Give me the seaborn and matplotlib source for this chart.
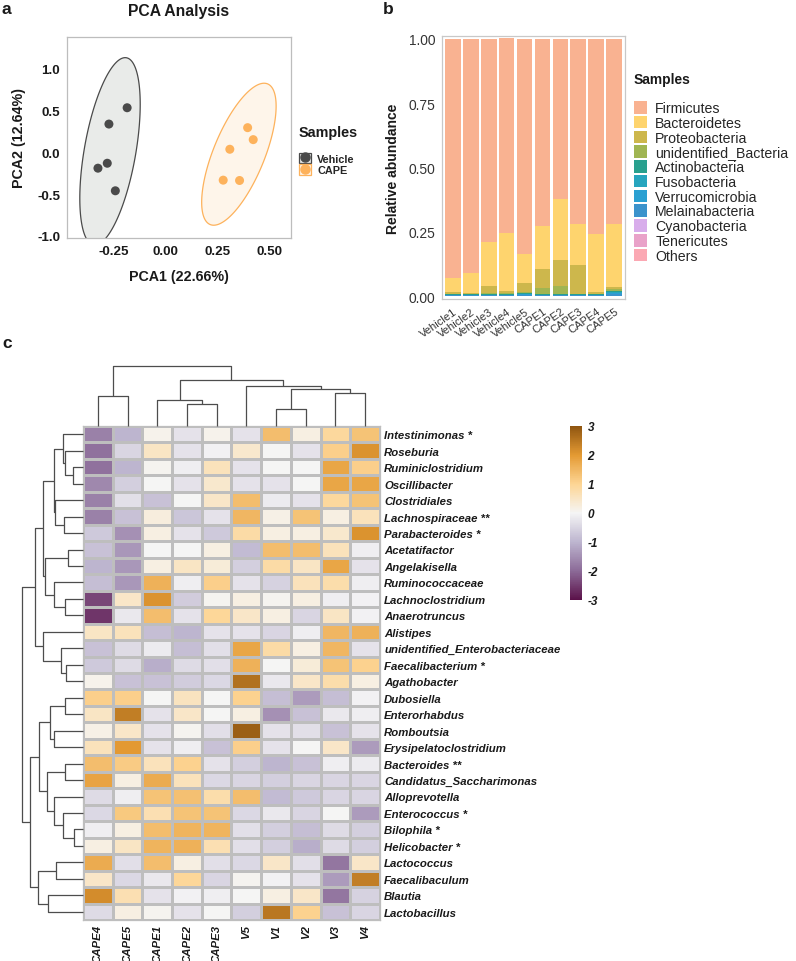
import numpy as np
import pandas as pd
import matplotlib
matplotlib.use("Agg")
import matplotlib.pyplot as plt
import seaborn as sns
from matplotlib.colors import LinearSegmentedColormap
from matplotlib.patches import Polygon, Patch
from matplotlib.lines import Line2D
from matplotlib.legend_handler import HandlerTuple

sns.set_theme(style="white")
plt.rcParams['font.family'] = ['Liberation Sans', 'DejaVu Sans']

# ---------------- data: panel a (PCA) ----------------
pca_group = ["Vehicle"] * 5 + ["CAPE"] * 5
pca1 = [-0.187, -0.275, -0.328, -0.283, -0.244, 0.395, 0.422, 0.309, 0.277, 0.356]
pca2 = [0.532, 0.337, -0.190, -0.131, -0.460, 0.294, 0.151, 0.036, -0.333, -0.337]
pca_groups = ["Vehicle", "CAPE"]
pca_colors = ["#4A4A4A", "#FDB25C"]
pca_fills = ["#E9EBE9", "#FEF5EA"]
ellipse_level = 0.93

# ---------------- data: panel b (stacked bars) ----------------
samples = ["Vehicle1", "Vehicle2", "Vehicle3", "Vehicle4", "Vehicle5",
           "CAPE1", "CAPE2", "CAPE3", "CAPE4", "CAPE5"]
phyla = ["Firmicutes", "Bacteroidetes", "Proteobacteria", "unidentified_Bacteria",
         "Actinobacteria", "Fusobacteria", "Verrucomicrobia", "Melainabacteria",
         "Cyanobacteria", "Tenericutes", "Others"]
phyla_colors = ["#F9B291", "#FED46E", "#CDB74C", "#A0B552", "#28A08E", "#27A5BE",
                "#2AA0D2", "#3B93CC", "#D8ADEB", "#E9A2C9", "#FBA8B3"]
firmicutes = [0.9285, 0.9095, 0.7875, 0.7555, 0.834, 0.7275, 0.6205, 0.7195, 0.7575, 0.720]
bacteroidetes = [0.055, 0.077, 0.171, 0.226, 0.115, 0.166, 0.238, 0.160, 0.225, 0.242]
proteobacteria = [0.006, 0.004, 0.030, 0.007, 0.034, 0.074, 0.103, 0.110, 0.008, 0.010]
unidentified_bacteria = [0.003, 0.002, 0.004, 0.003, 0.004, 0.024, 0.030, 0.003, 0.002, 0.008]
actinobacteria = [0.002, 0.002, 0.002, 0.003, 0.003, 0.003, 0.003, 0.002, 0.002, 0.004]
fusobacteria = [0.0005, 0.0005, 0.0005, 0.0005, 0.002, 0.0005, 0.0005, 0.0005, 0.0005, 0.001]
verrucomicrobia = [0.001, 0.001, 0.001, 0.002, 0.003, 0.001, 0.001, 0.001, 0.001, 0.006]
melainabacteria = [0.001, 0.001, 0.001, 0.001, 0.002, 0.001, 0.001, 0.001, 0.001, 0.006]
cyanobacteria = [0.0005] * 10
tenericutes = [0.0005] * 10
others = [0.002] * 10

# ---------------- data: panel c (heatmap) ----------------
hm_cols = ["CAPE4", "CAPE5", "CAPE1", "CAPE2", "CAPE3", "V5", "V1", "V2", "V3", "V4"]
hm_rows = ["Intestinimonas *", "Roseburia", "Ruminiclostridium", "Oscillibacter",
           "Clostridiales", "Lachnospiraceae **", "Parabacteroides *", "Acetatifactor",
           "Angelakisella", "Ruminococcaceae", "Lachnoclostridium", "Anaerotruncus",
           "Alistipes", "unidentified_Enterobacteriaceae", "Faecalibacterium *",
           "Agathobacter", "Dubosiella", "Enterorhabdus", "Romboutsia",
           "Erysipelatoclostridium", "Bacteroides **", "Candidatus_Saccharimonas",
           "Alloprevotella", "Enterococcus *", "Bilophila *", "Helicobacter *",
           "Lactococcus", "Faecalibaculum", "Blautia", "Lactobacillus"]
hm_values = [
    [-1.7, -1.0, 0.1, -0.3, 0.1, -0.3, 1.4, 0.2, 0.9, 1.3],
    [-1.9, -0.5, 0.5, -0.3, -0.05, 0.4, 0.0, -0.3, 1.1, 2.1],
    [-1.9, -1.0, 0.05, -0.1, 0.6, -0.3, 0.0, 0.0, 1.8, 1.1],
    [-1.6, -0.6, 0.0, -0.3, 0.4, -0.3, -0.3, 0.0, 1.8, 1.8],
    [-1.7, -0.35, -0.8, 0.0, 0.45, 1.4, -0.15, -0.3, 0.9, 1.3],
    [-1.7, -0.8, 0.25, -0.75, -0.3, 1.5, 0.15, 1.3, 0.2, 0.6],
    [-0.7, -1.5, 0.2, -0.3, -0.7, 0.8, 0.2, 0.2, 0.4, 2.1],
    [-0.8, -1.4, 0.0, 0.0, 0.2, -0.9, 1.4, 1.4, 0.6, -0.1],
    [-1.0, -1.4, 0.2, 0.5, 0.3, -0.6, 0.8, 0.5, 1.8, -0.3],
    [-0.85, -1.4, 1.6, -0.1, 1.1, -0.3, -0.55, 0.6, 0.75, -0.1],
    [-2.4, 0.45, 2.1, -0.65, 0.05, 0.2, 0.05, 0.2, -0.1, -0.05],
    [-2.6, -0.2, 1.4, -0.3, 0.95, 0.45, 0.2, -0.5, 0.5, -0.05],
    [0.5, 0.6, -0.85, -1.0, -0.3, -0.3, -0.5, -0.1, 1.5, 1.6],
    [-0.8, -0.4, -0.15, -0.85, -0.35, 1.8, 0.8, 0.2, 1.5, -0.3],
    [-0.7, -0.4, -1.1, -0.4, -0.35, 1.6, 0.0, 0.3, 1.3, 1.05],
    [0.1, -0.8, -0.8, -0.65, -0.45, 2.6, -0.2, 0.45, 0.75, 0.2],
    [1.1, 1.1, 0.0, 0.55, 0.0, 1.05, -0.85, -1.35, -0.85, -0.05],
    [0.5, 2.4, -0.3, 0.45, 0.0, 0.2, -1.5, -0.8, -0.2, -0.1],
    [0.15, 0.45, -0.3, 0.05, -0.35, 2.85, -0.3, -0.35, -0.8, -0.3],
    [0.6, 2.0, -0.3, -0.1, -0.8, 1.1, -0.3, 0.0, 0.45, -1.35],
    [1.4, 1.15, 0.6, 1.05, -0.3, -0.6, -1.0, -0.8, -0.1, -0.15],
    [1.85, 0.2, 1.7, 0.6, -0.45, -0.5, -0.6, -0.5, -0.5, -0.5],
    [-0.4, -0.1, 1.3, 1.35, 0.75, 1.4, -0.9, -0.7, -0.5, -0.5],
    [-0.45, 1.2, 0.7, 1.3, 1.3, -0.45, -0.2, -0.5, 0.0, -1.35],
    [-0.1, 0.2, 1.4, 1.55, 1.55, -0.35, -0.6, -0.85, -0.4, -0.6],
    [0.2, 0.5, 1.55, 1.6, 0.7, -0.35, -0.6, -1.1, -0.4, -0.6],
    [1.7, -0.35, 1.4, 0.2, -0.35, -0.45, 0.45, -0.35, -1.85, 0.45],
    [0.45, -0.45, -0.2, 0.95, -0.5, 0.05, -0.05, -0.3, -1.35, 2.4],
    [2.2, 0.7, -0.3, -0.05, -0.1, 0.0, 0.2, 0.45, -1.85, -0.55],
    [-0.4, 0.2, 0.05, -0.3, 0.0, -0.6, 2.5, 1.05, -0.8, -0.5],
]
# dendrogram merges: (child a, child b, height); ids >= n are earlier merges
col_links = [(0, 1, 29.3), (3, 4, 22.3), (2, 11, 25.7), (6, 7, 17.3), (8, 9, 32.3),
             (13, 14, 36.7), (5, 15, 40.0), (12, 16, 46.0), (10, 17, 60.0)]
row_links = [(2, 3, 10.0), (1, 30, 17.7), (0, 31, 20.0), (5, 6, 19.0), (4, 33, 28.3),
             (32, 34, 29.0), (7, 8, 15.0), (10, 11, 17.7), (9, 37, 29.0), (36, 38, 38.3),
             (35, 39, 40.0), (14, 15, 16.7), (13, 41, 21.7), (12, 42, 40.0), (40, 43, 48.3),
             (16, 17, 17.7), (18, 19, 29.0), (45, 46, 33.3), (20, 21, 17.7), (24, 25, 9.3),
             (23, 49, 20.0), (22, 50, 29.0), (48, 51, 35.7), (47, 52, 44.3), (26, 27, 26.7),
             (28, 29, 35.0), (54, 55, 45.0), (53, 56, 52.7), (44, 57, 60.7)]
cbar_ticks = [-3, -2, -1, 0, 1, 2, 3]

# ---------------- figure ----------------
W, H = 796, 962
fig = plt.figure(figsize=(W / 100, H / 100), dpi=100)


def add_ax(l, t, r, b):
    return fig.add_axes([l / W, 1 - b / H, (r - l) / W, (b - t) / H])


def fpos(px, py):
    return (px / W, 1 - py / H)


TXT = "#1A1A1A"

# ---------------- panel a ----------------
ax = add_ax(67, 38, 291, 239)
pca_df = pd.DataFrame({"PCA1": pca1, "PCA2": pca2, "Group": pca_group})


def cov_trob(X, nu=5, maxit=25, tol=0.01):
    n, p = X.shape
    loc = X.mean(0)
    w = np.ones(n)
    for _ in range(maxit):
        w0 = w
        Xc = X - loc
        _, d, vt = np.linalg.svd(np.sqrt(w / w.sum())[:, None] * Xc, full_matrices=False)
        wX = Xc @ vt.T @ np.diag(1 / d)
        Q = (wX ** 2).sum(1)
        w = (nu + p) / (nu + Q)
        loc = (w[:, None] * X).sum(0) / w.sum()
        if np.all(np.abs(w - w0) < tol):
            break
    Xc = X - loc
    cov = (np.sqrt(w)[:, None] * Xc).T @ (np.sqrt(w)[:, None] * Xc) / n
    return loc, cov


for g, c, f in zip(pca_groups, pca_colors, pca_fills):
    sub = pca_df[pca_df.Group == g][["PCA1", "PCA2"]].to_numpy()
    loc, cov = cov_trob(sub)
    dfd = len(sub) - 1
    fq = (dfd / 2) * ((1 - ellipse_level) ** (-2 / dfd) - 1)
    radius = np.sqrt(2 * fq)
    t = np.linspace(0, 2 * np.pi, 200)
    circ = np.column_stack([np.cos(t), np.sin(t)])
    ch = np.linalg.cholesky(cov).T
    ell = loc + radius * circ @ ch
    ax.add_patch(Polygon(ell, closed=True, facecolor=f, edgecolor=c, lw=0.9, zorder=1))

sns.scatterplot(data=pca_df, x="PCA1", y="PCA2", hue="Group", hue_order=pca_groups,
                palette=pca_colors, s=42, edgecolor="none", legend=False, ax=ax, zorder=3)
ax.set_xlim(-0.4775, 0.6045)
ax.set_ylim(-1.024, 1.377)
ax.set_xticks([-0.25, 0.0, 0.25, 0.5])
ax.set_xticklabels(["-0.25", "0.00", "0.25", "0.50"])
ax.set_yticks([-1.0, -0.5, 0.0, 0.5, 1.0])
ax.set_yticklabels(["-1.0", "-0.5", "0.0", "0.5", "1.0"])
for s in ax.spines.values():
    s.set_color("#BDBDBD")
    s.set_linewidth(0.9)
ax.tick_params(axis="both", length=3, width=0.8, color="#9A9A9A", labelsize=9.6,
               labelcolor=TXT, pad=2)
for lab in ax.get_xticklabels() + ax.get_yticklabels():
    lab.set_fontweight("bold")
ax.set_xlabel("PCA1 (22.66%)", fontsize=10.3, fontweight="bold", color=TXT, labelpad=9)
ax.set_ylabel("PCA2 (12.64%)", fontsize=10.3, fontweight="bold", color=TXT, labelpad=8)
ax.set_title("PCA Analysis", fontsize=11.3, fontweight="bold", color=TXT, pad=16)
fig.text(*fpos(299, 133), "Samples", fontsize=10.4, fontweight="bold", color=TXT,
         ha="left", va="center")
handles = [(Patch(facecolor=f, edgecolor=c, lw=0.9),
            Line2D([], [], marker="o", color=c, ls="none", markersize=6.5))
           for c, f in zip(pca_colors, pca_fills)]
ax.legend(handles, pca_groups, handler_map={tuple: HandlerTuple(ndivide=1, pad=0)},
          loc="upper left", bbox_to_anchor=fpos(299, 154), bbox_transform=fig.transFigure,
          frameon=False, borderpad=0, borderaxespad=0, handlelength=1.1,
          handleheight=1.1, handletextpad=0.6, labelspacing=0.05,
          prop={"weight": "bold", "size": 7.8})

# ---------------- panel b ----------------
bx = add_ax(442, 37, 625, 300)
series = [firmicutes, bacteroidetes, proteobacteria, unidentified_bacteria, actinobacteria,
          fusobacteria, verrucomicrobia, melainabacteria, cyanobacteria, tenericutes, others]
bar_df = pd.DataFrame({ph: v for ph, v in zip(phyla, series)}, index=samples)
xpos = np.arange(len(samples))
bottom = np.zeros(len(samples))
for ph, col in zip(reversed(phyla), reversed(phyla_colors)):
    vals = bar_df[ph].to_numpy()
    bx.bar(xpos, vals, bottom=bottom, width=0.88, color=col, edgecolor="none")
    bottom = bottom + vals
bx.set_xlim(-0.6, 9.6)
bx.set_ylim(-0.01, 1.01)
bx.set_yticks([0.0, 0.25, 0.5, 0.75, 1.0])
bx.set_yticklabels(["0.00", "0.25", "0.50", "0.75", "1.00"])
bx.set_xticks(xpos)
bx.set_xticklabels(samples, rotation=35, ha="right", rotation_mode="anchor")
for s in bx.spines.values():
    s.set_color("#C8C8C8")
    s.set_linewidth(0.9)
bx.tick_params(axis="y", length=3, width=0.8, color="#9A9A9A", labelsize=9.9,
               labelcolor="#333333", pad=2)
bx.tick_params(axis="x", length=3, width=0.8, color="#9A9A9A", labelsize=8,
               labelcolor="#333333", pad=2)
bx.set_ylabel("Relative abundance", fontsize=10, fontweight="bold", color=TXT, labelpad=6)
fig.text(*fpos(634, 80), "Samples", fontsize=9.9, fontweight="bold", color=TXT,
         ha="left", va="center")
bh = [Patch(facecolor=c, edgecolor="none") for c in phyla_colors]
bx.legend(bh, phyla, loc="upper left", bbox_to_anchor=fpos(634, 102),
          bbox_transform=fig.transFigure, frameon=False, borderpad=0, borderaxespad=0,
          handlelength=0.95, handleheight=1.0, handletextpad=0.55, labelspacing=0.04,
          prop={"size": 10.2})

# ---------------- panel c ----------------
hx = add_ax(83, 427, 380, 921)
cax = add_ax(570, 427, 582, 601)
cmap = LinearSegmentedColormap.from_list(
    "puor", [(0.0, "#5B1149"), (1 / 6, "#8C6B98"), (2 / 6, "#BDB5CF"), (0.5, "#F5F5F5"),
             (4 / 6, "#FDD594"), (5 / 6, "#E49A33"), (1.0, "#8F5510")])
hm_df = pd.DataFrame(hm_values, index=hm_rows, columns=hm_cols)
sns.heatmap(hm_df, ax=hx, cmap=cmap, vmin=-3, vmax=3, linewidths=0.9, linecolor="#BEBEBE",
            cbar_ax=cax, cbar_kws={"ticks": cbar_ticks}, xticklabels=True, yticklabels=True)
hx.yaxis.tick_right()
hx.tick_params(axis="both", length=0, pad=3)
hx.set_yticklabels(hm_rows, rotation=0, fontstyle="italic", fontweight="bold",
                   fontsize=8.2, color=TXT)
hx.set_xticklabels(hm_cols, rotation=90, fontstyle="italic", fontweight="bold",
                   fontsize=8.2, color=TXT)
hx.set_xlabel("")
hx.set_ylabel("")
for s in ["top", "bottom", "left", "right"]:
    hx.spines[s].set_visible(True)
    hx.spines[s].set_color("#BEBEBE")
    hx.spines[s].set_linewidth(0.9)
cax.tick_params(length=0, pad=4)
cax.set_yticklabels([str(t) for t in cbar_ticks], fontstyle="italic", fontweight="bold",
                    fontsize=8.5, color=TXT)
for s in cax.spines.values():
    s.set_visible(False)


def draw_dendro(axd, links, n, orient):
    pos = {i: i + 0.5 for i in range(n)}
    hgt = {i: 0.0 for i in range(n)}
    for k, (a, b, h) in enumerate(links):
        pa, pb = pos[a], pos[b]
        xs = [pa, pa, pb, pb]
        ys = [hgt[a], h, h, hgt[b]]
        if orient == "top":
            axd.plot(xs, ys, color="#4D4D4D", lw=0.9, clip_on=False, solid_capstyle="butt")
        else:
            axd.plot(ys, xs, color="#4D4D4D", lw=0.9, clip_on=False, solid_capstyle="butt")
        pos[n + k] = (pa + pb) / 2
        hgt[n + k] = h


dtop = add_ax(83, 366, 380, 427)
draw_dendro(dtop, col_links, len(hm_cols), "top")
dtop.set_xlim(0, len(hm_cols))
dtop.set_ylim(0, 60.5)
dtop.axis("off")

dleft = add_ax(22, 427, 83, 921)
draw_dendro(dleft, row_links, len(hm_rows), "left")
dleft.set_xlim(61, 0)
dleft.set_ylim(len(hm_rows), 0)
dleft.axis("off")

# panel letters
for lab, (px, py) in zip(["a", "b", "c"], [(2, 2), (383, 2), (2, 336)]):
    fig.text(*fpos(px, py), lab, fontsize=12.5, fontweight="bold", color=TXT,
             ha="left", va="top")

fig.savefig("out.png", dpi=100)
